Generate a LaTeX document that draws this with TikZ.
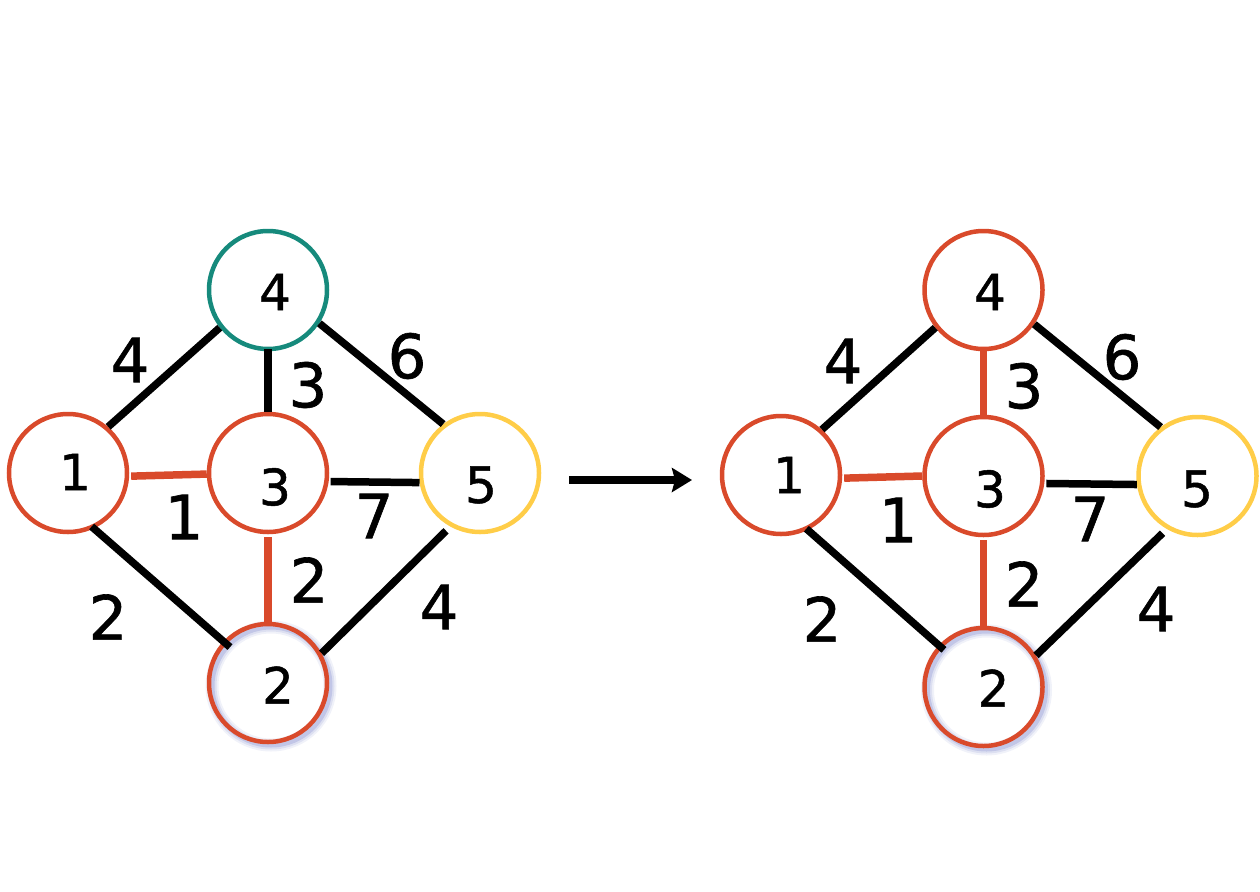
\documentclass[tikz,border=0pt]{standalone}
\usepackage{fontspec}
\setmainfont{DejaVu Sans}
\newfontfamily\digf[FakeBold=1]{DejaVu Sans}
\usetikzlibrary{arrows.meta}
\definecolor{nodered}{HTML}{D94A2B}
\definecolor{nodeteal}{HTML}{168A7C}
\definecolor{nodeyellow}{HTML}{FFCD48}
\definecolor{glowlav}{HTML}{98A0D6}
\begin{document}
\begin{tikzpicture}[x=1pt,y=-1pt,
  vtx/.style={circle, draw, line width=4.5pt, minimum size=118pt, inner sep=0pt},
  vlab/.style={font=\digf\fontsize{50}{50}\selectfont, inner sep=0pt},
  elab/.style={font=\digf\fontsize{61}{61}\selectfont, inner sep=0pt},
  blk/.style={line width=7.5pt, black},
  redge/.style={line width=7.5pt, nodered},
  glowring/.style={glowlav, line width=#1}]
\useasboundingbox (0,0) rectangle (1260,891);

% ---------- left graph ----------
\coordinate (Lg) at (271,686);
\draw[glowring=13pt, opacity=0.14] (Lg) circle[radius=59pt];
\draw[glowring=9pt, opacity=0.22] (Lg) circle[radius=59pt];
\draw[glowring=5pt, opacity=0.40] (Lg) circle[radius=59pt];

\node[vtx, draw=nodered] (L1) at (68,473) {};
\node[vtx, draw=nodered] (L3) at (268,473) {};
\node[vtx, draw=nodeteal] (L4) at (268,290) {};
\node[vtx, draw=nodeyellow] (L5) at (480,473) {};
\node[vtx, draw=nodered] (L2) at (268,683) {};

\node[vlab] (L1t) at (75,472) {1};
\node[vlab] (L3t) at (275,487) {3};
\node[vlab] (L4t) at (275,292) {4};
\node[vlab] (L5t) at (481,485) {5};
\node[vlab] (L2t) at (278,685) {2};

\draw[blk] (L1.49) -- (L4.218);
\draw[blk, shorten <=-2pt] (L4.south) -- (L3.north);
\draw[blk] (L4.-33) -- (L5.127);
\draw[redge, shorten <=2pt] (L1.-3) -- (L3.181);
\draw[blk, shorten <=2pt] (L3.-8) -- (L5.189);
\draw[blk, shorten <=-3pt, shorten >=-9pt] (L1.-65) -- (L2.137);
\draw[redge, shorten <=3pt] (L3.south) -- (L2.north);
\draw[blk, shorten <=6pt] (L5.241) -- (L2.29);

\node[elab] (Le14) at (130,360) {4};
\node[elab] (Le43) at (308,385) {3};
\node[elab] (Le45) at (407,356) {6};
\node[elab] (Le13) at (184,517) {1};
\node[elab] (Le35) at (374,516) {7};
\node[elab] (Le12) at (108,617) {2};
\node[elab] (Le32) at (309,580) {2};
\node[elab] (Le52) at (439,607) {4};

% ---------- arrow ----------
\coordinate (A1) at (569,480);
\coordinate (A2) at (692,480);
\draw[line width=8pt, -{Stealth[length=20pt, width=24pt, inset=3pt]}] (A1) -- (A2);

% ---------- right graph ----------
\coordinate (Rg) at (986.5,690);
\draw[glowring=13pt, opacity=0.14] (Rg) circle[radius=59pt];
\draw[glowring=9pt, opacity=0.22] (Rg) circle[radius=59pt];
\draw[glowring=5pt, opacity=0.40] (Rg) circle[radius=59pt];

\node[vtx, draw=nodered] (R1) at (781,475) {};
\node[vtx, draw=nodered] (R3) at (983.5,476) {};
\node[vtx, draw=nodered] (R4) at (983.5,290) {};
\node[vtx, draw=nodeyellow] (R5) at (1197.5,476) {};
\node[vtx, draw=nodered] (R2) at (983.5,687) {};

\node[vlab] (R1t) at (789,475) {1};
\node[vlab] (R3t) at (990,489) {3};
\node[vlab] (R4t) at (990,292) {4};
\node[vlab] (R5t) at (1197,489) {5};
\node[vlab] (R2t) at (993.5,688) {2};

\draw[blk] (R1.48) -- (R4.218);
\draw[redge, shorten <=-2pt] (R4.south) -- (R3.north);
\draw[blk] (R4.-34) -- (R5.127);
\draw[redge, shorten <=2pt] (R1.-3) -- (R3.180);
\draw[blk, shorten <=2pt] (R3.-7) -- (R5.188);
\draw[blk, shorten <=-2pt, shorten >=-7pt] (R1.-64) -- (R2.137);
\draw[redge, shorten <=3pt] (R3.south) -- (R2.north);
\draw[blk, shorten <=6pt] (R5.240) -- (R2.31);

\node[elab] (Re14) at (843,361) {4};
\node[elab] (Re43) at (1024,386) {3};
\node[elab] (Re45) at (1122,357) {6};
\node[elab] (Re13) at (898,520) {1};
\node[elab] (Re35) at (1090,519) {7};
\node[elab] (Re12) at (822,619) {2};
\node[elab] (Re32) at (1024,584) {2};
\node[elab] (Re52) at (1156,609) {4};
\end{tikzpicture}
\end{document}
